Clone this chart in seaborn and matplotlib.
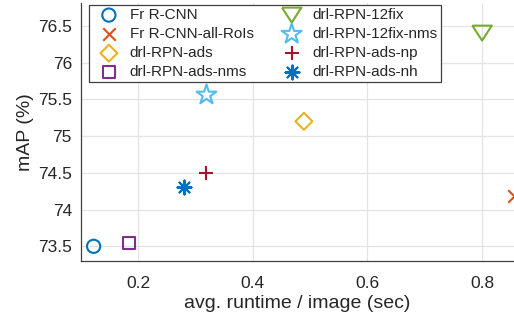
import matplotlib
matplotlib.use('Agg')
import matplotlib.pyplot as plt
import seaborn as sns
from matplotlib.ticker import FormatStrFormatter

# 数据：各方法的平均运行时间与 mAP
methods = ['Fr R-CNN', 'Fr R-CNN-all-RoIs', 'drl-RPN-ads', 'drl-RPN-ads-nms',
           'drl-RPN-12fix', 'drl-RPN-12fix-nms', 'drl-RPN-ads-np', 'drl-RPN-ads-nh']
runtime = [0.122, 0.856, 0.489, 0.184, 0.800, 0.319, 0.318, 0.280]
map_vals = [73.50, 74.18, 75.20, 73.54, 76.40, 75.56, 74.50, 74.30]
x_ticks = [0.2, 0.4, 0.6, 0.8]
y_ticks = [73.5, 74, 74.5, 75, 75.5, 76, 76.5]

# 样式（MATLAB 默认配色）
colors = ['#0072BD', '#D95319', '#EDB120', '#7E2F8E',
          '#77AC30', '#4DBEEE', '#A2142F', '#0072BD']
wide_tri = [(-1.3, 1), (1.3, 1), (0, -1), (-1.3, 1)]  # MATLAB 风格的倒三角
markers = ['o', 'x', 'D', 's', wide_tri, '*', '+', (8, 2, 0)]
msizes = [9.5, 9, 8.6, 8.6, 14, 15, 10, 10]
hollow = [True, False, True, True, True, True, False, False]

sns.set_style('white')
plt.rcParams['font.family'] = ['Liberation Sans', 'DejaVu Sans']
txt = '#262626'

fig = plt.figure(figsize=(5.14, 3.16), dpi=100)
ax = fig.add_axes([0.1576, 0.174, 0.8424, 0.8166])

for i, m in enumerate(methods):
    kw = dict(x=[runtime[i]], y=[map_vals[i]], marker=markers[i], s=msizes[i] ** 2,
              ax=ax, label=m, zorder=3)
    if hollow[i]:
        sns.scatterplot(**kw, facecolors='none', edgecolor=colors[i], linewidth=1.5)
    else:
        sns.scatterplot(**kw, color=colors[i], linewidth=1.5)

ax.set_xlim(0.1, 0.8557)
ax.set_ylim(73.3, 76.81)
ax.set_xticks(x_ticks)
ax.set_yticks(y_ticks)
ax.yaxis.set_major_formatter(FormatStrFormatter('%g'))
ax.xaxis.set_major_formatter(FormatStrFormatter('%g'))
ax.grid(True, color='#e3e3e3', linewidth=0.9, zorder=0)
ax.set_axisbelow(True)

sns.despine(ax=ax)
for s in ['left', 'bottom']:
    ax.spines[s].set_color('#404040')
    ax.spines[s].set_linewidth(0.9)
ax.tick_params(axis='x', direction='in', length=3.5, width=0.9, colors='#404040',
               labelcolor=txt, labelsize=12.5, pad=11)
ax.tick_params(axis='y', direction='out', length=2.5, width=0.9, colors='#404040',
               labelcolor=txt, labelsize=12.5, pad=4)

ax.set_xlabel('avg. runtime / image (sec)', fontsize=14, color=txt, labelpad=3)
ax.set_ylabel('mAP (%)', fontsize=14, color=txt, labelpad=3)

leg = ax.legend(loc='upper left', bbox_to_anchor=(0.0185, 0.992), ncol=2,
                fontsize=11, frameon=True, fancybox=False, borderaxespad=0,
                labelspacing=0.33, columnspacing=1.4, handletextpad=0.25,
                borderpad=0.2, handlelength=2.2, markerscale=1.0)
leg.get_frame().set_edgecolor('#404040')
leg.get_frame().set_linewidth(0.9)
leg.get_frame().set_alpha(1)
for t in leg.get_texts():
    t.set_color(txt)

plt.savefig('out.png', dpi=100)
